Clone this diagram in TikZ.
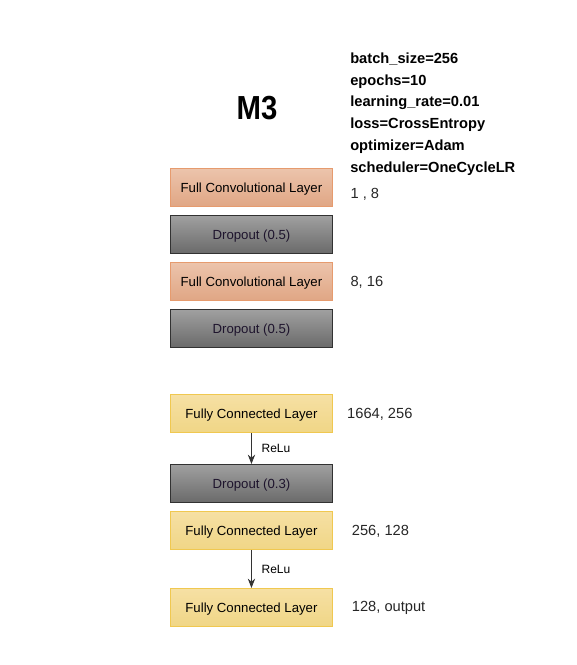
\documentclass[tikz,border=0pt]{standalone}
\usepackage{fontspec}
\setmainfont{Liberation Sans}
\usepackage{tikz}
\usetikzlibrary{arrows.meta, positioning}
\definecolor{convtop}{RGB}{236, 196, 172}
\definecolor{convbot}{RGB}{224, 166, 132}
\definecolor{convline}{RGB}{230, 155, 110}
\definecolor{droptop}{RGB}{160, 160, 160}
\definecolor{dropbot}{RGB}{106, 106, 106}
\definecolor{dropline}{RGB}{50, 50, 50}
\definecolor{fctop}{RGB}{246, 224, 164}
\definecolor{fcbot}{RGB}{240, 214, 134}
\definecolor{fcline}{RGB}{240, 200, 80}
\definecolor{droptext}{RGB}{30, 20, 45}

\begin{document}
\begin{tikzpicture}[
    node distance=6pt,
    layer/.style={rectangle, minimum width=121.5pt, minimum height=28.5pt,
                  inner sep=0pt, text centered, line width=0.75pt,
                  text height=7.1pt, text depth=0pt,
                  font=\fontsize{9.9}{12}\selectfont},
    convbox/.style={layer, top color=convtop, bottom color=convbot, draw=convline},
    dropbox/.style={layer, top color=droptop, bottom color=dropbot, draw=dropline, text=droptext},
    fcbox/.style={layer, top color=fctop, bottom color=fcbot, draw=fcline},
    dims/.style={inner sep=0pt, font=\fontsize{11}{13}\selectfont, text=black!85},
    arrow/.style={-{Stealth[length=7pt, width=5.5pt]}, draw=black!80, semithick},
]
\useasboundingbox (0,0) rectangle (432pt,-498.75pt);

% title and settings
\node[font=\bfseries\fontsize{25}{29}\selectfont, xscale=0.88, transform shape] (title) at (192.75pt,-81pt) {M3};
\node[anchor=north west, inner sep=0pt, align=left, font=\bfseries\fontsize{11}{16.35}\selectfont]
    (params) at (262.5pt,-39.25pt)
    {batch\_size=256\\ epochs=10\\ learning\_rate=0.01\\ loss=CrossEntropy\\ optimizer=Adam\\ scheduler=OneCycleLR};

% layers
\node[convbox] (conv1) at (188.6pt,-140.6pt) {Full Convolutional Layer};
\node[dropbox, below=of conv1] (drop1) {Dropout (0.5)};
\node[convbox, below=of drop1] (conv2) {Full Convolutional Layer};
\node[dropbox, below=of conv2] (drop2) {Dropout (0.5)};
\node[fcbox, below=34.5pt of drop2] (fc1) {Fully Connected Layer};
\node[dropbox, below=23.25pt of fc1] (drop3) {Dropout (0.3)};
\node[fcbox, below=of drop3] (fc2) {Fully Connected Layer};
\node[fcbox, below=28.5pt of fc2] (fc3) {Fully Connected Layer};

% sizes
\node[dims, right=13pt of conv1, yshift=-5.5pt] (d1) {1 , 8};
\node[dims, right=13pt of conv2, yshift=-1pt] (d2) {8, 16};
\node[dims, right=10.5pt of fc1, yshift=-0.5pt] (d3) {1664, 256};
\node[dims, right=14pt of fc2, yshift=-1pt] (d4) {256, 128};
\node[dims, right=14pt of fc3] (d5) {128, output};

\draw[arrow] (fc1) -- node[right=4pt, font=\fontsize{9}{11}\selectfont]{ReLu} (drop3);
\draw[arrow] (fc2) -- node[right=4pt, font=\fontsize{9}{11}\selectfont]{ReLu} (fc3);

\end{tikzpicture}
\end{document}
